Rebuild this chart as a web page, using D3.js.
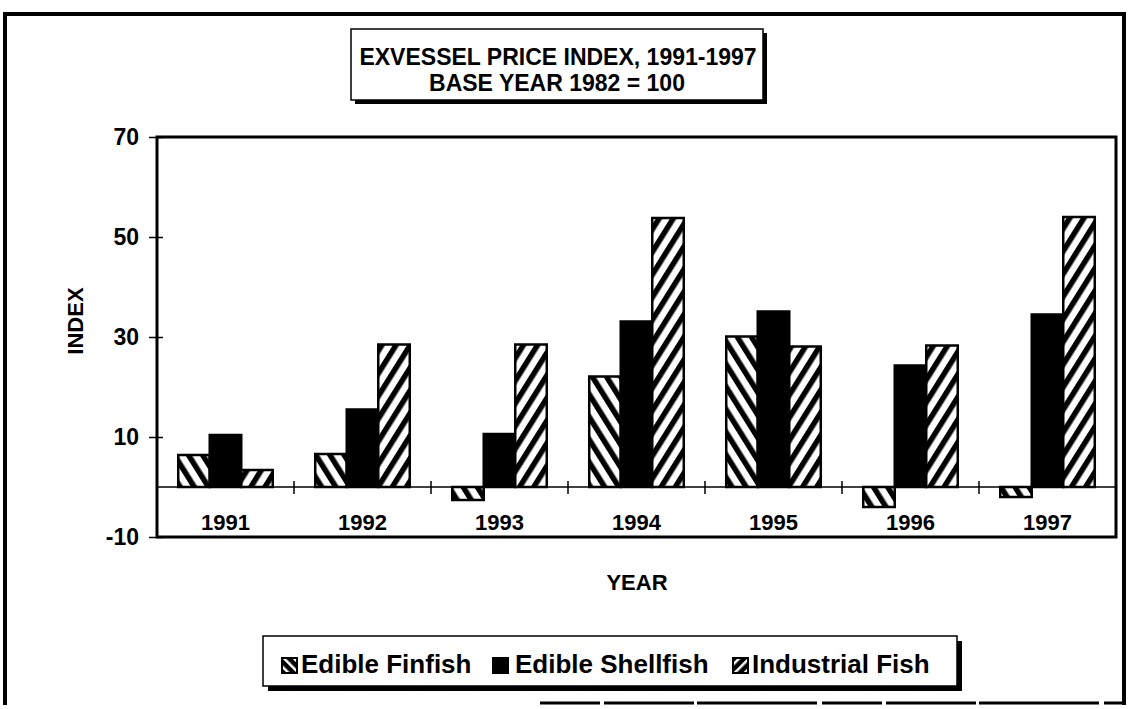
<!DOCTYPE html>
<html>
<head>
<meta charset="utf-8">
<script src="https://cdn.jsdelivr.net/npm/d3@7"></script>
<style>
  html, body { margin: 0; padding: 0; background: #fff; }
  svg { display: block; font-family: "Liberation Sans", Arial, sans-serif; font-weight: bold; }
</style>
</head>
<body>
<svg id="chart" width="1128" height="709"></svg>
<script>
// Exvessel price index by year, base year 1982 = 100
const years = ["1991", "1992", "1993", "1994", "1995", "1996", "1997"];
const edibleFinfish = [6.4, 6.6, -2.6, 22.1, 30.1, -4.0, -2.0];
const edibleShellfish = [10.4, 15.5, 10.6, 33.1, 35.1, 24.3, 34.5];
const industrialFish = [3.4, 28.5, 28.5, 53.8, 28.1, 28.3, 54.0];
const seriesNames = ["Edible Finfish", "Edible Shellfish", "Industrial Fish"];
const yTicks = [-10, 10, 30, 50, 70];

const svg = d3.select("#chart");

// hatch patterns for the bars
const defs = svg.append("defs");
function hatch(id, angle) {
  const p = defs.append("pattern")
    .attr("id", id).attr("patternUnits", "userSpaceOnUse")
    .attr("width", 12).attr("height", 12)
    .attr("patternTransform", `rotate(${angle})`);
  p.append("rect").attr("width", 12).attr("height", 12).attr("fill", "#fff");
  p.append("rect").attr("x", 0).attr("y", 0).attr("width", 5.5).attr("height", 12).attr("fill", "#000");
}
hatch("backHatch", -32);
hatch("fwdHatch", 32);
const fills = ["url(#backHatch)", "#000", "url(#fwdHatch)"];

// outer frame
svg.append("path")
  .attr("d", `M5,705 L5,14 L1124,14 L1124,705`)
  .attr("fill", "none").attr("stroke", "#000").attr("stroke-width", 4);
svg.append("line").attr("x1", 540).attr("x2", 1124).attr("y1", 703).attr("y2", 703)
  .attr("stroke", "#000").attr("stroke-width", 3).attr("stroke-dasharray", "60 4 90 3 120 5");

// plot geometry
const left = 157, right = 1116;
const x0 = d3.scaleBand().domain(years).range([left, right]).paddingInner(0.31).paddingOuter(0.155);
const x1 = d3.scaleBand().domain(seriesNames).range([0, x0.bandwidth()]);
const y = d3.scaleLinear().domain([-10, 70]).range([537, 137]);
const cat = d3.scaleBand().domain(years).range([left, right]);

const g = svg.append("g");

// bars
const series = [edibleFinfish, edibleShellfish, industrialFish];
series.forEach((vals, si) => {
  g.selectAll(null).data(vals).enter().append("rect")
    .attr("x", (d, i) => x0(years[i]) + x1(seriesNames[si]))
    .attr("y", d => y(Math.max(0, d)))
    .attr("width", x1.bandwidth())
    .attr("height", d => Math.abs(y(d) - y(0)))
    .attr("fill", fills[si])
    .attr("stroke", "#000").attr("stroke-width", 2.5);
});

// zero line with category ticks
g.append("line").attr("x1", left).attr("x2", right).attr("y1", y(0)).attr("y2", y(0))
  .attr("stroke", "#000").attr("stroke-width", 1.5);
g.selectAll(null).data(years.slice(1)).enter().append("line")
  .attr("x1", d => cat(d)).attr("x2", d => cat(d))
  .attr("y1", y(0) - 6).attr("y2", y(0) + 7)
  .attr("stroke", "#000").attr("stroke-width", 1.5);

// year labels
g.selectAll(null).data(years).enter().append("text")
  .attr("x", d => cat(d) + cat.bandwidth() / 2)
  .attr("y", y(0) + 43)
  .attr("text-anchor", "middle").attr("font-size", 22)
  .text(d => d);

// plot frame
g.append("rect").attr("x", left).attr("y", y(70)).attr("width", right - left).attr("height", y(-10) - y(70))
  .attr("fill", "none").attr("stroke", "#000").attr("stroke-width", 3);

// y axis
const yAxis = d3.axisLeft(y).tickValues(yTicks).tickSize(8).tickFormat(d => String(d));
const ya = g.append("g").attr("transform", `translate(${left},0)`).call(yAxis);
ya.select(".domain").remove();
ya.selectAll("line").attr("x2", 6).attr("x1", -8).attr("stroke-width", 1.5);
ya.selectAll("text").attr("font-size", 23).attr("font-family", "Liberation Sans, Arial")
  .attr("font-weight", "bold").attr("fill", "#000").attr("x", -18);

// axis titles
svg.append("text").attr("transform", "translate(83,321) rotate(-90)")
  .attr("text-anchor", "middle").attr("font-size", 22).text("INDEX");
svg.append("text").attr("x", 637).attr("y", 590)
  .attr("text-anchor", "middle").attr("font-size", 22).text("YEAR");

// title box
const tb = { x: 351, y: 29, w: 412, h: 71 };
svg.append("rect").attr("x", tb.x + 4).attr("y", tb.y + 4).attr("width", tb.w).attr("height", tb.h).attr("fill", "#000");
svg.append("rect").attr("x", tb.x).attr("y", tb.y).attr("width", tb.w).attr("height", tb.h)
  .attr("fill", "#fff").attr("stroke", "#000").attr("stroke-width", 1.5);
svg.append("text").attr("x", tb.x + tb.w / 2 + 1).attr("y", 65).attr("text-anchor", "middle")
  .attr("font-size", 23).text("EXVESSEL PRICE INDEX, 1991-1997");
svg.append("text").attr("x", tb.x + tb.w / 2).attr("y", 91).attr("text-anchor", "middle")
  .attr("font-size", 23).text("BASE YEAR 1982 = 100");

// legend box
const lb = { x: 263, y: 636, w: 694, h: 50 };
svg.append("rect").attr("x", lb.x + 5).attr("y", lb.y + 5).attr("width", lb.w).attr("height", lb.h).attr("fill", "#000");
svg.append("rect").attr("x", lb.x).attr("y", lb.y).attr("width", lb.w).attr("height", lb.h)
  .attr("fill", "#fff").attr("stroke", "#000").attr("stroke-width", 1.5);

// legend swatch patterns
function smallHatch(id, angle) {
  const p = defs.append("pattern")
    .attr("id", id).attr("patternUnits", "userSpaceOnUse")
    .attr("width", 7).attr("height", 7)
    .attr("patternTransform", `rotate(${angle})`);
  p.append("rect").attr("width", 7).attr("height", 7).attr("fill", "#000");
  p.append("rect").attr("x", 0).attr("width", 2.5).attr("height", 7).attr("fill", "#fff");
}
smallHatch("backHatchS", -45);
smallHatch("fwdHatchS", 45);
const legendFills = ["url(#backHatchS)", "#000", "url(#fwdHatchS)"];
const legendX = [282, 493, 733];
const legendText = [301, 515, 752];
seriesNames.forEach((name, i) => {
  svg.append("rect").attr("x", legendX[i]).attr("y", 658).attr("width", 15).attr("height", 15)
    .attr("fill", legendFills[i]).attr("stroke", "#000").attr("stroke-width", 2);
  svg.append("text").attr("x", legendText[i]).attr("y", 673).attr("font-size", 26).text(name);
});
</script>
</body>
</html>
